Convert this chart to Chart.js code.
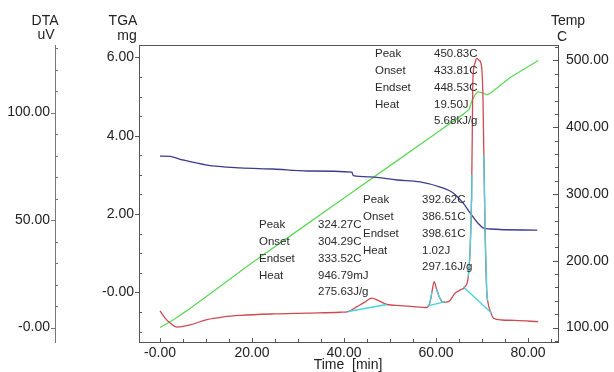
<!DOCTYPE html>
<html><head><meta charset="utf-8">
<script src="https://cdn.jsdelivr.net/npm/chart.js@4.4.1/dist/chart.umd.min.js"></script>
<style>html,body{margin:0;padding:0;background:#fff;}canvas{display:block;}</style>
</head><body>
<canvas id="c" width="614" height="372"></canvas>
<script>
// ---- data ----
const dtaTime   = [0, 1.1, 2.2, 3.7, 6.5, 10.2, 13.7, 17.4, 24.6, 32.0, 39.1, 40.9, 42.8, 44.6, 46.0, 47.4, 49.3, 52.2, 55.0, 58.0, 58.7, 59.1, 59.6, 60.1, 60.7, 61.6, 62.7, 64.1, 65.2, 66.3, 67.0, 67.4, 67.7, 67.9, 68.0, 68.4, 68.85, 69.3, 69.9, 70.2, 70.4, 70.65, 71.0, 71.3, 71.7, 72.5, 74.3, 77.2, 82.2];
const dtaValues = [7.7, 4.4, 2.1, 0.2, 1.2, 3.7, 4.9, 5.6, 6.3, 6.7, 7.1, 7.4, 9.7, 11.9, 13.7, 12.6, 10.7, 10.2, 9.7, 9.3, 11.9, 16.5, 21.3, 17.9, 14.2, 11.7, 12.0, 15.9, 17.4, 19.0, 23.6, 36.0, 59.3, 96.5, 115.1, 122.6, 125.2, 124.4, 121.3, 105.8, 77.9, 45.3, 17.4, 11.4, 8.1, 4.3, 3.5, 3.3, 2.7];

const tgaTime   = [0, 2.2, 5.0, 10.2, 17.4, 24.6, 32.0, 41.7, 42.0, 45.6, 51.5, 56.5, 60.9, 63.7, 65.9, 67.4, 69.1, 70.2, 71.7, 82.0];
const tgaValues = [3.48, 3.47, 3.38, 3.25, 3.18, 3.15, 3.10, 3.07, 2.98, 2.95, 2.87, 2.82, 2.69, 2.54, 2.28, 2.03, 1.77, 1.65, 1.62, 1.59];

const tempTime   = [0, 3, 6, 10, 20, 30, 40, 50, 60, 66, 67.2, 67.8, 68.5, 69.1, 70.0, 71.1, 72.0, 76.1, 82.2];
const tempValues = [100, 112, 126, 146, 197, 245.5, 294, 342.5, 391, 420, 427, 440, 449, 453, 452, 448.5, 452, 474.5, 500];

// peak baselines / highlighted peak segments (null = break)
const cyanTime   = [40.9, 49.3, null, 58.0, 62.0, null, 58.6, 59.1, null, 60.1, 60.7, 61.2, null, 65.9, 72.1, null, 67.0, 67.4, 67.7, 67.76, null, 70.35, 70.4, 70.65, 71.0, 71.2];
const cyanValues = [7.44, 10.7, null, 10.0, 12.0, null, 11.0, 16.5, null, 17.9, 14.2, 12.4, null, 19.0, 6.6, null, 23.6, 36.0, 59.3, 71.0, null, 80.0, 77.9, 45.3, 17.4, 12.5];

const timeTicks = [0, 20, 40, 60, 80];
const dtaTicks  = [0, 50, 100];
const tgaTicks  = [0, 2, 4, 6];
const tempTicks = [100, 200, 300, 400, 500];

const peakNames   = ['Peak', 'Onset', 'Endset', 'Heat'];
const peak1Values = ['324.27C', '304.29C', '333.52C', '946.79mJ', '275.63J/g'];
const peak2Values = ['392.62C', '386.51C', '398.61C', '1.02J', '297.16J/g'];
const peak3Values = ['450.83C', '433.81C', '448.53C', '19.50J', '5.68kJ/g'];

// ---- chart ----
const FONT = "'Liberation Sans', Arial, sans-serif";
Chart.defaults.font.family = FONT;
const toXY = (xs, ys) => xs.map((x, i) => ({x: x, y: ys[i]}));
const fmt = v => (Math.abs(v) < 1e-9 ? '-0.00' : Number(v).toFixed(2));
const setTicks = arr => s => { s.ticks = arr.map(v => ({value: v})); };

const minorTicks = {
  id: 'minorTicks',
  afterDraw(chart) {
    const ctx = chart.ctx, a = chart.chartArea, S = chart.scales;
    ctx.save();
    ctx.lineWidth = 1;
    const h = (x1, y, x2, c) => { ctx.strokeStyle = c; ctx.beginPath(); ctx.moveTo(x1, Math.round(y) + 0.5); ctx.lineTo(x2, Math.round(y) + 0.5); ctx.stroke(); };
    const v = (x, y1, y2, c) => { ctx.strokeStyle = c; ctx.beginPath(); ctx.moveTo(Math.round(x) + 0.5, y1); ctx.lineTo(Math.round(x) + 0.5, y2); ctx.stroke(); };
    // top border of the plot box
    h(a.left, a.top, a.right, '#555');
    // time axis: ticks pointing inward
    for (let t = 0; t <= 85; t += 5) v(S.x.getPixelForValue(t), a.bottom, a.bottom - (t % 20 === 0 ? 4 : 3), '#555');
    // TGA axis: majors outward, minors inward
    for (let m = -1; m <= 6.001; m += 0.5) {
      const y = S.yTGA.getPixelForValue(m);
      if (Math.abs(m - Math.round(m / 2) * 2) < 1e-6) h(a.left - 4, y, a.left, '#555');
      else h(a.left, y, a.left + 3, '#555');
    }
    // DTA axis
    const dx = S.yDTA.right;
    for (let d = 0; d <= 130; d += 10) {
      const y = S.yDTA.getPixelForValue(d);
      if (d % 50 === 0) h(dx - 4, y, dx, '#777'); else h(dx, y, dx + 3, '#777');
    }
    // Temp axis: inward
    for (let T = 80; T <= 520; T += 20) {
      const y = S.yTemp.getPixelForValue(T);
      h(a.right - (T % 100 === 0 ? 5 : 3), y, a.right, '#555');
    }
    ctx.restore();
  }
};

const texts = {
  id: 'texts',
  afterDraw(chart) {
    const ctx = chart.ctx;
    ctx.save();
    ctx.fillStyle = '#222';
    ctx.textBaseline = 'middle';
    ctx.font = '14px ' + FONT;
    ctx.textAlign = 'center';
    ctx.fillText('DTA', 45, 21); ctx.fillText('uV', 46, 35);
    ctx.fillText('TGA', 123, 21); ctx.fillText('mg', 127, 36);
    ctx.fillText('Temp', 568, 21); ctx.fillText('C', 562, 37);
    ctx.fillText('Time  [min]', 348, 365);
    ctx.font = '11.5px ' + FONT;
    ctx.fillStyle = '#2a2a2a';
    ctx.textAlign = 'left';
    const group = (lx, vx, y0, vals) => {
      peakNames.forEach((n, i) => ctx.fillText(n, lx, y0 + i * 16.8));
      vals.forEach((s, i) => ctx.fillText(s, vx, y0 + i * 16.8));
    };
    group(259, 318, 225, peak1Values);
    group(363, 422, 200, peak2Values);
    group(375, 434, 54, peak3Values);
    ctx.restore();
  }
};

const tickFont = {size: 14, family: FONT};
new Chart(document.getElementById('c'), {
  type: 'line',
  data: {
    datasets: [
      {data: toXY(cyanTime, cyanValues), yAxisID: 'yDTA', borderColor: '#45d3dc', borderWidth: 1.3, pointRadius: 0, spanGaps: false, order: 0},
      {data: toXY(dtaTime, dtaValues), yAxisID: 'yDTA', borderColor: '#cc4a52', borderWidth: 1.3, pointRadius: 0, cubicInterpolationMode: 'monotone', order: 1},
      {data: toXY(tgaTime, tgaValues), yAxisID: 'yTGA', borderColor: '#3c3c8e', borderWidth: 1.3, pointRadius: 0, cubicInterpolationMode: 'monotone', order: 2},
      {data: toXY(tempTime, tempValues), yAxisID: 'yTemp', borderColor: '#5fd85a', borderWidth: 1.3, pointRadius: 0, tension: 0, order: 3}
    ]
  },
  options: {
    responsive: false,
    animation: false,
    layout: {padding: {top: 45, left: 0, right: 0, bottom: 0}},
    plugins: {legend: {display: false}, tooltip: {enabled: false}},
    scales: {
      x: {
        type: 'linear', position: 'bottom', min: -4.57, max: 86.5,
        afterFit: s => { s.height = 30; }, afterBuildTicks: setTicks(timeTicks),
        grid: {drawOnChartArea: false, drawTicks: false},
        border: {color: '#555'},
        ticks: {padding: 3, font: tickFont, color: '#222', callback: fmt, autoSkip: false, maxRotation: 0}
      },
      yDTA: {
        type: 'linear', position: 'left', weight: 1, min: -6.74, max: 131.4,
        afterFit: s => { s.width = 55; }, afterBuildTicks: setTicks(dtaTicks),
        grid: {drawOnChartArea: false, drawTicks: false},
        border: {color: '#777'},
        ticks: {padding: 5, font: tickFont, color: '#222', callback: fmt, autoSkip: false}
      },
      yTGA: {
        type: 'linear', position: 'left', weight: 0, min: -1.263, max: 6.314,
        afterFit: s => { s.width = 84; }, afterBuildTicks: setTicks(tgaTicks),
        grid: {drawOnChartArea: false, drawTicks: false},
        border: {color: '#555'},
        ticks: {padding: 5, font: tickFont, color: '#222', callback: fmt, autoSkip: false}
      },
      yTemp: {
        type: 'linear', position: 'right', min: 78.3, max: 523.2,
        afterFit: s => { s.width = 56; }, afterBuildTicks: setTicks(tempTicks),
        grid: {drawOnChartArea: false, drawTicks: false},
        border: {color: '#555'},
        ticks: {padding: 8, font: tickFont, color: '#222', callback: fmt, autoSkip: false}
      }
    }
  },
  plugins: [minorTicks, texts]
});
</script>
</body></html>
